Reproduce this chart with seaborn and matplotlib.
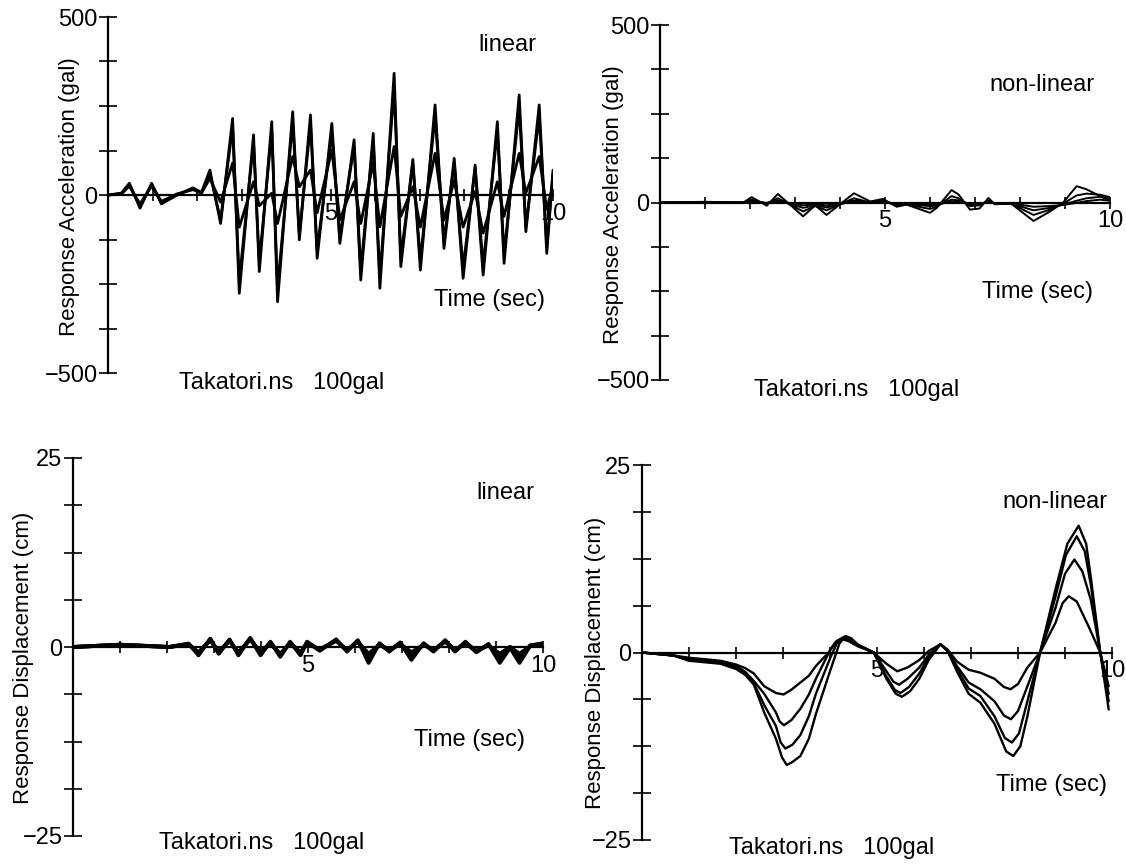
import matplotlib
matplotlib.use("Agg")
import matplotlib.pyplot as plt
import seaborn as sns
from matplotlib.ticker import FixedLocator, MultipleLocator

# ---------------- linear response acceleration (gal) ----------------
t_acc_lin = [0, 0.3, 0.48, 0.72, 0.98, 1.2, 1.55, 1.91, 2.1, 2.29, 2.53, 2.8, 2.95, 3.27, 3.4,
             3.68, 3.81, 4.15, 4.3, 4.55, 4.7, 5.03, 5.21, 5.53, 5.68, 5.96, 6.11, 6.43, 6.58,
             6.85, 7.02, 7.35, 7.55, 7.78, 7.98, 8.25, 8.43, 8.75, 8.9, 9.24, 9.39, 9.69, 9.86, 10.0]
acc_lin_a = [0, 5, 33, -37, 33, -25, 0, 20, 7, 70, -80, 215, -276, 169, -215, 206, -300, 234, -126,
             225, -178, 201, -136, 155, -239, 173, -262, 342, -201, 100, -211, 253, -150, 103, -234,
             84, -225, 206, -192, 281, -103, 253, -164, 70]
acc_lin_b = [0, 4, 29, -32, 29, -22, 0, 18, 6, 60, -70, 190, -240, 148, -188, 180, -262, 205, -110,
             197, -155, 176, -118, 136, -208, 151, -228, 300, -175, 88, -184, 222, -131, 90, -204,
             74, -196, 180, -167, 246, -90, 222, -143, 60]
acc_lin_c = [0, 3, 25, -25, 25, -18, 3, 15, 5, 47, -20, 90, -90, 37, -30, 5, -80, 108, 23, 70, -50,
             126, -70, 37, -80, 90, -89, 136, -60, 23, -90, 117, -70, 41, -90, 10, -107, 37, -60,
             117, 5, 108, -40, 30]

# ---------------- non-linear response acceleration (gal) ----------------
t_acc_nl = [0, 1.0, 1.85, 2.04, 2.37, 2.62, 3.18, 3.45, 3.7, 4.0, 4.31, 4.67, 4.96, 5.26, 5.48, 6.0,
            6.15, 6.48, 6.63, 6.89, 7.1, 7.3, 7.44, 7.8, 8.3, 8.67, 8.96, 9.26, 9.48, 9.78, 10.0]
acc_nl_a = [0, 2, 0, 15, -9, 24, -39, -8, -35, -5, 26, 3, 10, -12, -6, -29, -15, 35, 23, -20, -17,
            13, -5, -3, -52, -25, 0, 46, 37, 18, 5]
acc_nl_b = [0, 1, 0, 8, -3, 12, -25, -10, -22, -5, 12, 0, 5, -8, -6, -18, -12, 18, 12, -10, -8, 6,
            -4, -3, -35, -20, -3, 20, 25, 22, 15]
acc_nl_c = [0, 0, 0, 4, -2, 6, -15, -8, -14, -5, 6, 0, 3, -5, -5, -10, -9, 8, 6, -5, -5, 2, -3, -3,
            -22, -15, -6, 5, 12, 16, 10]
acc_nl_d = [0, 0, 0, 2, -1, 3, -8, -5, -8, -4, 3, -1, 1, -3, -3, -6, -6, 3, 3, -3, -3, 0, -2, -2,
            -12, -10, -7, -1, 4, 8, 5]

# ---------------- linear response displacement (cm) ----------------
t_dis_lin = [0, 1.0, 2.05, 2.46, 2.67, 2.92, 3.1, 3.33, 3.52, 3.77, 3.99, 4.2, 4.41, 4.62, 4.84,
             4.98, 5.25, 5.6, 5.83, 6.06, 6.29, 6.52, 6.73, 6.96, 7.2, 7.46, 7.67, 7.92, 8.13, 8.35,
             8.58, 8.84, 9.08, 9.3, 9.5, 9.73, 10.0]
dis_lin_a = [0, 0.3, 0.0, 0.45, -1.1, 1.1, -0.9, 1.0, -1.1, 1.2, -1.1, 0.7, -1.3, 0.7, -1.1, 0.7,
             -0.5, 1.0, -0.6, 0.9, -2.1, 0.5, -0.6, 0.6, -1.7, 0.5, -0.6, 0.9, -0.6, 0.7, -0.7,
             0.4, -2.1, -0.1, -2.1, 0.2, 0.5]
dis_lin_b = [0, 0.3, 0.0, 0.4, -0.9, 1.0, -0.8, 0.9, -0.9, 1.1, -0.9, 0.6, -1.1, 0.6, -0.9, 0.6,
             -0.4, 0.9, -0.5, 0.8, -1.5, 0.4, -0.5, 0.5, -1.2, 0.4, -0.5, 0.8, -0.5, 0.6, -0.6,
             0.3, -1.5, 0.0, -1.5, 0.2, 0.4]
dis_lin_c = [0, 0.3, 0.0, 0.35, -0.7, 0.9, -0.6, 0.8, -0.7, 1.0, -0.7, 0.5, -0.9, 0.5, -0.7, 0.5,
             -0.3, 0.8, -0.4, 0.7, -0.9, 0.3, -0.4, 0.4, -0.7, 0.3, -0.4, 0.7, -0.4, 0.5, -0.5,
             0.2, -0.9, 0.0, -0.9, 0.1, 0.3]

# ---------------- non-linear response displacement (cm) ----------------
t_dis_nl_a = [0, 0.67, 1.0, 1.67, 2.0, 2.2, 2.38, 2.6, 2.85, 2.98, 3.08, 3.2, 3.37, 3.55, 3.7, 4.0,
              4.2, 4.33, 4.45, 4.6, 4.93, 5.2, 5.4, 5.53, 5.7, 5.9, 6.1, 6.35, 6.5, 6.7, 6.95, 7.2,
              7.5, 7.75, 7.9, 8.05, 8.2, 8.47, 8.8, 9.05, 9.29, 9.45, 9.55, 9.75, 9.93]
dis_nl_a = [0, -0.4, -1.1, -1.5, -2.2, -3.0, -4.3, -8.0, -11.5, -14.0, -15.0, -14.6, -13.8, -11.5,
            -8.2, -2.5, 1.2, 2.2, 1.9, 1.0, 0, -3.5, -5.5, -5.9, -5.2, -3.5, -1.0, 1.1, 0.2, -2.5,
            -5.5, -6.7, -9.5, -13.2, -13.8, -12.5, -8.5, 0, 8.5, 14.5, 16.9, 14.5, 10, 0, -7.6]
t_dis_nl_b = [0, 0.67, 1.0, 1.67, 2.0, 2.2, 2.38, 2.6, 2.85, 2.95, 3.05, 3.2, 3.37, 3.55, 3.7, 4.0,
              4.15, 4.3, 4.45, 4.6, 4.93, 5.2, 5.38, 5.5, 5.68, 5.9, 6.1, 6.35, 6.5, 6.7, 6.95, 7.2,
              7.5, 7.72, 7.87, 8.02, 8.2, 8.47, 8.8, 9.02, 9.25, 9.42, 9.55, 9.75, 9.93]
dis_nl_b = [0, -0.4, -1.0, -1.4, -2.0, -2.8, -4.1, -7.0, -9.8, -12.0, -12.8, -12.3, -11.0, -8.5,
            -5.5, -0.8, 1.3, 2.1, 1.8, 1.0, 0, -3.2, -5.0, -5.4, -4.6, -2.8, -0.6, 1.1, 0.2, -2.2,
            -4.8, -5.8, -8.5, -11.4, -12.0, -10.8, -6.5, 0, 7.5, 13.0, 15.5, 13.5, 9, 0, -6.5]
t_dis_nl_c = [0, 0.67, 1.0, 1.67, 2.0, 2.2, 2.38, 2.6, 2.85, 2.93, 3.02, 3.18, 3.37, 3.55, 3.7, 4.0,
              4.13, 4.28, 4.43, 4.6, 4.93, 5.2, 5.35, 5.47, 5.65, 5.9, 6.1, 6.35, 6.5, 6.7, 6.95,
              7.2, 7.5, 7.7, 7.85, 8.0, 8.2, 8.47, 8.8, 9.0, 9.2, 9.37, 9.55, 9.75, 9.93]
dis_nl_c = [0, -0.4, -0.9, -1.3, -1.8, -2.6, -3.8, -5.5, -8.0, -9.2, -9.7, -9.0, -7.5, -5.6, -3.5,
            0.3, 1.5, 2.0, 1.7, 1.0, 0, -2.5, -3.9, -4.3, -3.5, -2.0, -0.3, 1.1, 0.3, -1.8, -4.0,
            -4.9, -6.5, -8.4, -8.9, -7.8, -4.5, 0, 6.0, 10.5, 12.4, 10.8, 7, 0, -5.5]
t_dis_nl_d = [0, 0.67, 1.0, 1.67, 2.0, 2.2, 2.38, 2.6, 2.85, 3.01, 3.17, 3.37, 3.55, 3.7, 3.97, 4.1,
              4.25, 4.4, 4.6, 4.93, 5.2, 5.43, 5.65, 5.9, 6.1, 6.35, 6.5, 6.7, 6.95, 7.2, 7.5, 7.7,
              7.84, 8.0, 8.2, 8.47, 8.8, 8.95, 9.08, 9.25, 9.5, 9.75, 9.93]
dis_nl_d = [0, -0.4, -0.7, -1.1, -1.6, -2.1, -2.8, -4.5, -5.4, -5.6, -5.0, -4.0, -3.1, -1.8, 0,
            1.2, 1.8, 1.5, 0.8, 0, -1.5, -2.5, -2.0, -1.0, 0.2, 1.1, 0.4, -1.2, -2.3, -2.7, -3.5,
            -4.6, -4.9, -4.2, -2.0, 0, 4.0, 6.6, 7.5, 6.8, 3.5, 0, -4.5]

# ---------------- labels ----------------
time_label = "Time (sec)"
record_label = "Takatori.ns   100gal"
acc_label = "Response Acceleration (gal)"
dis_label = "Response Displacement (cm)"

sns.set_theme(style="ticks")
plt.rcParams['font.family'] = ['Liberation Sans', 'DejaVu Sans']
plt.rcParams['axes.unicode_minus'] = True

W, H = 1126, 865
fig = plt.figure(figsize=(W / 100, H / 100), dpi=100)
fig.patch.set_facecolor("white")


def px_axes(x0, x1, ytop, ybot):
    return fig.add_axes([x0 / W, 1 - ybot / H, (x1 - x0) / W, (ybot - ytop) / H])


def style_axis(ax, lim):
    ax.set_xlim(0, 10)
    ax.set_ylim(-lim, lim)
    ax.patch.set_alpha(0)
    for s in ("top", "right"):
        ax.spines[s].set_visible(False)
    ax.spines["left"].set_position(("data", 0))
    ax.spines["bottom"].set_position(("data", 0))
    for s in ("left", "bottom"):
        ax.spines[s].set_color("black")
        ax.spines[s].set_linewidth(1.6)
    ax.xaxis.set_major_locator(FixedLocator([5, 10]))
    ax.xaxis.set_minor_locator(MultipleLocator(1))
    ax.yaxis.set_major_locator(FixedLocator([-lim, 0, lim]))
    ax.yaxis.set_minor_locator(MultipleLocator(lim / 4))
    ax.tick_params(which="both", direction="inout", colors="black", width=1.2)
    ax.tick_params(axis="y", which="both", length=13)
    ax.tick_params(axis="x", which="both", length=9)
    ax.tick_params(which="major", labelsize=17, pad=1)
    ax.set_xlabel("")
    ax.set_ylabel("")


def draw(ax, t, v, lw):
    sns.lineplot(x=t, y=v, ax=ax, color="black", linewidth=lw,
                 estimator=None, sort=False, legend=False)


def put(x, y, s, size=17, **kw):
    fig.text(x / W, 1 - y / H, s, ha="center", va="center", fontsize=size,
             color="black", **kw)


# top left: linear acceleration
ax1 = px_axes(108, 553, 17, 373)
for v in (acc_lin_a, acc_lin_b, acc_lin_c):
    draw(ax1, t_acc_lin, v, 2.0)
style_axis(ax1, 500)
put(507, 45, "linear")
put(490, 300, time_label)
put(282, 383, record_label)
put(70, 197, acc_label, size=16, rotation=90)

# top right: non-linear acceleration
ax2 = px_axes(660, 1110, 25, 380)
for v in (acc_nl_a, acc_nl_b, acc_nl_c, acc_nl_d):
    draw(ax2, t_acc_nl, v, 1.4)
style_axis(ax2, 500)
put(1042, 85, "non-linear")
put(1038, 292, time_label)
put(857, 390, record_label)
put(614, 205, acc_label, size=16, rotation=90)

# bottom left: linear displacement
ax3 = px_axes(73, 543, 458, 836)
for v in (dis_lin_a, dis_lin_b, dis_lin_c):
    draw(ax3, t_dis_lin, v, 2.8)
style_axis(ax3, 25)
put(505, 493, "linear")
put(470, 740, time_label)
put(262, 843, record_label)
put(24, 658, dis_label, size=16, rotation=90)

# bottom right: non-linear displacement
ax4 = px_axes(642, 1112, 465, 840)
for t, v in ((t_dis_nl_a, dis_nl_a), (t_dis_nl_b, dis_nl_b),
             (t_dis_nl_c, dis_nl_c), (t_dis_nl_d, dis_nl_d)):
    draw(ax4, t, v, 1.7)
style_axis(ax4, 25)
put(1055, 502, "non-linear")
put(1052, 785, time_label)
put(832, 848, record_label)
put(596, 663, dis_label, size=16, rotation=90)

fig.savefig("out.png", dpi=100, facecolor="white")
